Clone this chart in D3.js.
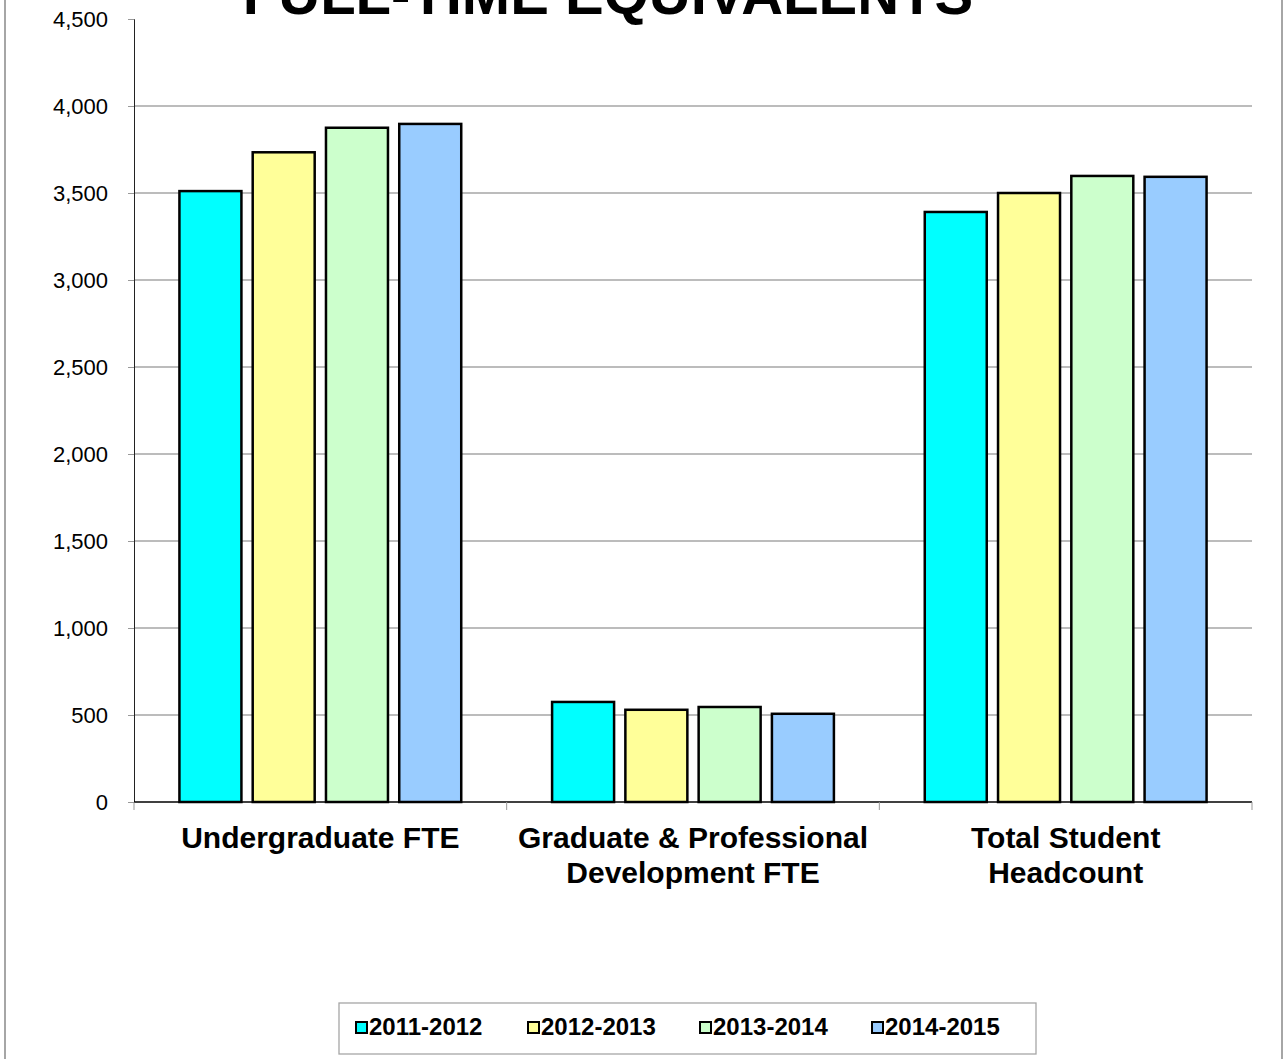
<!doctype html>
<html>
<head>
<script src="https://cdnjs.cloudflare.com/ajax/libs/d3/7.8.5/d3.min.js"></script>
<style>
body { margin: 0; background: #fff; }
text { font-family: Arial, "Liberation Sans", sans-serif; }
</style>
</head>
<body>
<svg id="chart" width="1284" height="1059"></svg>
<script>
var categories = [["Undergraduate FTE"], ["Graduate & Professional", "Development FTE"], ["Total Student", "Headcount"]];
var years = ["2011-2012", "2012-2013", "2013-2014", "2014-2015"];
var undergrad = [3511, 3734, 3875, 3897];
var graduate = [575, 530, 546, 507];
var headcount = [3391, 3500, 3598, 3593];
var yTicks = [0, 500, 1000, 1500, 2000, 2500, 3000, 3500, 4000, 4500];
var colors = ["#00FFFF", "#FFFF99", "#CCFFCC", "#99CCFF"];

var series = [undergrad, graduate, headcount];
var svg = d3.select("#chart");

// outer chart frame (only sides visible)
svg.append("line").attr("x1", 5).attr("x2", 5).attr("y1", 0).attr("y2", 1059)
  .attr("stroke", "#888").attr("stroke-width", 1.5);
svg.append("line").attr("x1", 1282).attr("x2", 1282).attr("y1", 0).attr("y2", 1059)
  .attr("stroke", "#888").attr("stroke-width", 1.5);

var x0 = d3.scaleBand().domain(d3.range(categories.length)).range([134, 1252]);
var x1 = d3.scaleBand().domain(years).range([0, x0.bandwidth()])
  .paddingInner(0.154).paddingOuter(0.62);
var y = d3.scaleLinear().domain([0, 4500]).range([802, 19]);
var color = d3.scaleOrdinal().domain(years).range(colors);

// gridlines
svg.append("g").selectAll("line")
  .data(yTicks.filter(d => d > 0 && d < 4500))
  .enter().append("line")
  .attr("x1", 134).attr("x2", 1252)
  .attr("y1", d => y(d)).attr("y2", d => y(d))
  .attr("stroke", "#a6a6a6").attr("stroke-width", 1.3);

// y axis
var yAxis = svg.append("g").attr("transform", "translate(134,0)")
  .call(d3.axisLeft(y).tickValues(yTicks).tickSize(6).tickPadding(20)
    .tickFormat(d3.format(",")));
yAxis.select(".domain").attr("stroke", "#222").attr("stroke-width", 1);
yAxis.selectAll(".tick line").attr("stroke", "#999");
yAxis.selectAll("text").attr("font-size", 22).attr("fill", "#000")
  .attr("font-family", "Arial, 'Liberation Sans', sans-serif");

// bars
var groups = svg.append("g").selectAll("g")
  .data(series).enter().append("g")
  .attr("transform", (d, i) => "translate(" + x0(i) + ",0)");
groups.selectAll("rect")
  .data(d => d.map((v, j) => ({year: years[j], value: v})))
  .enter().append("rect")
  .attr("x", d => x1(d.year))
  .attr("width", x1.bandwidth())
  .attr("y", d => y(d.value))
  .attr("height", d => y(0) - y(d.value))
  .attr("fill", d => color(d.year))
  .attr("stroke", "#000").attr("stroke-width", 2.5);

// x axis
svg.append("line").attr("x1", 134).attr("x2", 1252).attr("y1", 802).attr("y2", 802)
  .attr("stroke", "#000").attr("stroke-width", 1.5);
svg.append("g").selectAll("line")
  .data(d3.range(categories.length + 1))
  .enter().append("line")
  .attr("x1", d => 134 + d * x0.step()).attr("x2", d => 134 + d * x0.step())
  .attr("y1", 802).attr("y2", 810)
  .attr("stroke", "#999").attr("stroke-width", 1);

// category labels
var cat = svg.append("g").selectAll("text")
  .data(categories).enter().append("text")
  .attr("x", (d, i) => x0(i) + x0.bandwidth() / 2)
  .attr("y", 848)
  .attr("text-anchor", "middle")
  .attr("font-size", 30).attr("font-weight", "bold");
cat.selectAll("tspan").data(d => d).enter().append("tspan")
  .attr("x", function() { return d3.select(this.parentNode).attr("x"); })
  .attr("dy", (d, i) => i === 0 ? 0 : 35)
  .text(d => d);

// title (cut off at top, as in the source)
svg.append("text").attr("x", 608).attr("y", 14)
  .attr("text-anchor", "middle").attr("font-size", 58).attr("font-weight", "bold")
  .text("FULL-TIME EQUIVALENTS");

// legend
svg.append("rect").attr("x", 339).attr("y", 1003).attr("width", 697).attr("height", 51)
  .attr("fill", "#fff").attr("stroke", "#a6a6a6").attr("stroke-width", 1.3);
var leg = svg.append("g").selectAll("g")
  .data(years).enter().append("g")
  .attr("transform", (d, i) => "translate(" + (356 + i * 172) + ",1022)");
leg.append("rect").attr("width", 11).attr("height", 11)
  .attr("fill", d => color(d)).attr("stroke", "#000").attr("stroke-width", 2);
leg.append("text").attr("x", 13).attr("y", 13)
  .attr("font-size", 24).attr("font-weight", "bold")
  .text(d => d);
</script>
</body>
</html>
